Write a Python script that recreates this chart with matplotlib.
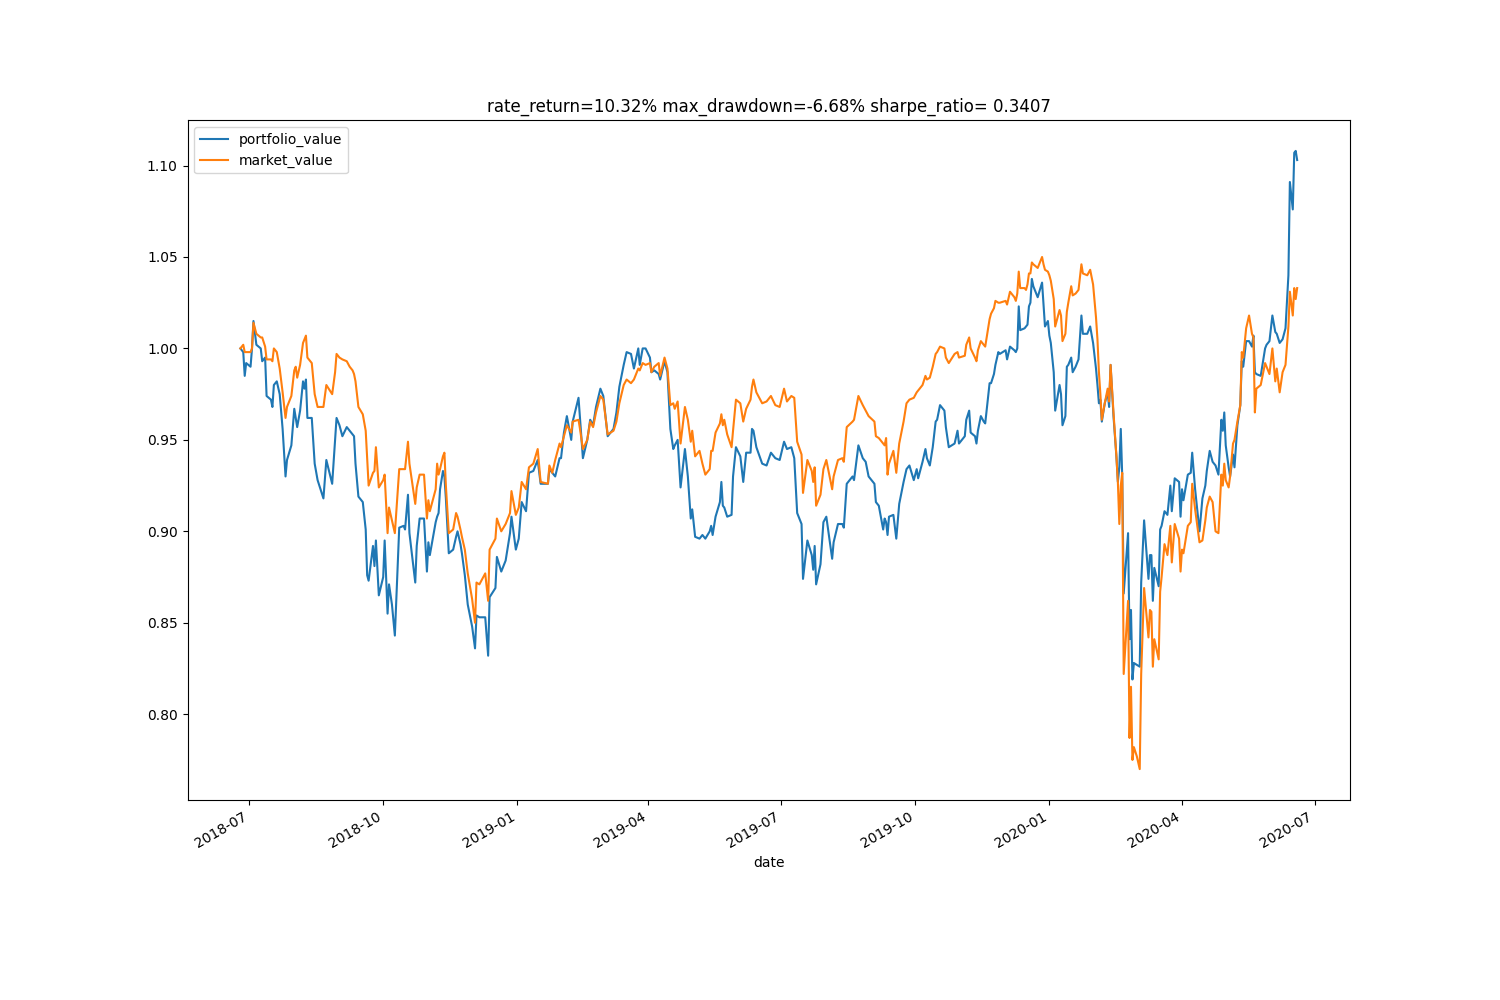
import matplotlib
matplotlib.use('Agg')
import matplotlib.pyplot as plt
import matplotlib.dates as mdates
import pandas as pd

start_date = '2018-06-25'
day_offsets = [
    0, 2, 3, 4, 7, 8, 9, 11, 14, 15, 17, 18, 21, 22, 23, 25, 27, 29, 31, 32,
    35, 37, 38, 39, 41, 43, 44, 45, 46, 49, 51, 53, 57, 59, 63, 65, 66, 68, 70, 73,
    75, 77, 78, 79, 81, 84, 86, 87, 88, 91, 92, 93, 95, 98, 99, 101, 102, 104, 106, 109,
    112, 113, 115, 116, 120, 121, 123,
    126, 128, 129, 130, 134, 135, 136, 137, 139, 140, 141, 143, 146, 148, 149, 151, 152, 154, 156, 159,
    161, 162, 164, 166, 168, 170, 171, 175, 176, 179, 182, 185, 186, 189, 191, 193, 196, 198, 201, 204,
    206, 211, 212, 214, 216, 219, 220, 222, 224, 227, 228, 232, 233, 235, 238, 240, 242, 244, 247,
    249, 252, 256, 258, 260, 263, 265, 268, 270, 273, 274, 276, 278, 281, 282, 284, 287, 288, 291, 293,
    295, 297, 298, 300, 302, 305, 307, 309, 310, 312, 315, 317, 319, 322, 323, 324, 326, 329, 330, 331,
    332, 334, 337, 338, 340, 343, 345, 347, 350, 351, 352, 354, 358, 361, 364, 367, 370,
    373, 375, 378, 380, 382, 385, 386, 389, 392, 393, 394, 395, 398, 400, 402, 406, 407, 410, 413, 414,
    416, 420, 421, 424, 427, 429, 431, 435, 436, 438, 441, 442, 443, 444, 445, 448, 450, 452, 455, 457,
    459, 462, 464, 465, 468, 470, 471, 473, 475, 477, 478, 480, 483, 484, 486, 490, 492, 493,
    497, 498, 500, 501, 504, 505, 506, 508, 510, 511, 514, 515, 517, 518, 520, 521, 525, 526, 528, 531,
    532, 533, 534, 535, 538, 539, 540, 541, 542, 543, 544, 547, 550, 551, 552, 554, 555, 556, 558, 559,
    562, 563, 564, 566, 567, 568, 570, 571, 573, 575, 577, 578, 581, 583,
    585, 587, 588, 589, 590, 591, 593, 595, 596, 597, 599, 601, 602, 603, 604, 605, 606, 609, 610, 611,
    612, 613, 615, 617, 618, 620, 623, 624, 625, 626, 627, 630, 631, 632, 634, 636, 638, 639, 641, 644,
    645, 646, 647, 650, 652, 653, 655, 658, 660, 662, 663, 665, 667, 669, 671, 673, 674, 675, 676, 678,
    679, 681, 682, 684, 686, 687, 688, 690, 692, 694, 695, 696, 697, 700, 703, 704, 706, 708, 710, 711,
    713, 715, 717, 719, 720, 722, 723, 724, 725,
]

portfolio_value = [
    1.000, 0.998, 0.985, 0.992, 0.990, 1.000, 1.015, 1.002, 1.000, 0.993, 0.995, 0.974, 0.972, 0.968, 0.980, 0.982, 0.975, 0.956, 0.930, 0.939,
    0.947, 0.967, 0.962, 0.957, 0.966, 0.982, 0.978, 0.983, 0.962, 0.962, 0.937, 0.928, 0.918, 0.939, 0.926, 0.950, 0.962, 0.958, 0.952, 0.957,
    0.955, 0.953, 0.952, 0.937, 0.919, 0.916, 0.901, 0.876, 0.873, 0.892, 0.881, 0.895, 0.865, 0.875, 0.895, 0.855, 0.871, 0.860, 0.843, 0.902,
    0.903, 0.901, 0.920, 0.899, 0.872, 0.892, 0.907,
    0.907, 0.878, 0.894, 0.887, 0.905, 0.908, 0.910, 0.923, 0.933, 0.930, 0.918, 0.888, 0.890, 0.897, 0.900, 0.893, 0.888, 0.876, 0.860, 0.848,
    0.836, 0.854, 0.853, 0.853, 0.853, 0.832, 0.864, 0.869, 0.886, 0.878, 0.884, 0.899, 0.908, 0.890, 0.896, 0.916, 0.911, 0.932, 0.933, 0.939,
    0.926, 0.926, 0.934, 0.932, 0.930, 0.940, 0.940, 0.954, 0.963, 0.950, 0.960, 0.973, 0.962, 0.940, 0.950, 0.961, 0.958, 0.968, 0.978,
    0.974, 0.952, 0.956, 0.965, 0.979, 0.991, 0.998, 0.997, 0.989, 1.000, 0.991, 1.000, 1.000, 0.995, 0.987, 0.988, 0.986, 0.983, 0.993, 0.987,
    0.956, 0.945, 0.947, 0.950, 0.924, 0.945, 0.930, 0.907, 0.912, 0.897, 0.896, 0.898, 0.896, 0.900, 0.903, 0.898, 0.908, 0.916, 0.927, 0.914,
    0.913, 0.908, 0.909, 0.930, 0.946, 0.941, 0.927, 0.943, 0.943, 0.956, 0.955, 0.946, 0.937, 0.936, 0.943, 0.940, 0.939,
    0.949, 0.945, 0.946, 0.940, 0.910, 0.904, 0.874, 0.895, 0.887, 0.879, 0.892, 0.871, 0.882, 0.905, 0.908, 0.885, 0.894, 0.904, 0.904, 0.902,
    0.926, 0.930, 0.928, 0.947, 0.940, 0.938, 0.930, 0.926, 0.916, 0.914, 0.901, 0.907, 0.905, 0.898, 0.908, 0.909, 0.896, 0.915, 0.927, 0.934,
    0.936, 0.928, 0.934, 0.929, 0.938, 0.945, 0.940, 0.936, 0.946, 0.960, 0.961, 0.969, 0.966, 0.957, 0.946, 0.948, 0.955, 0.948,
    0.952, 0.961, 0.966, 0.954, 0.952, 0.948, 0.955, 0.963, 0.960, 0.959, 0.981, 0.981, 0.986, 0.991, 0.998, 0.997, 0.999, 0.994, 1.001, 0.999,
    0.998, 1.000, 1.023, 1.010, 1.011, 1.012, 1.013, 1.023, 1.025, 1.038, 1.034, 1.028, 1.036, 1.024, 1.012, 1.015, 1.007, 1.003, 0.987, 0.966,
    0.980, 0.975, 0.958, 0.963, 0.990, 0.991, 0.995, 0.987, 0.990, 0.994, 1.018, 1.008, 1.008, 1.012,
    1.003, 0.989, 0.980, 0.970, 0.972, 0.960, 0.970, 0.976, 0.968, 0.991, 0.963, 0.941, 0.927, 0.935, 0.956, 0.930, 0.866, 0.899, 0.841, 0.857,
    0.819, 0.828, 0.827, 0.826, 0.872, 0.906, 0.874, 0.887, 0.887, 0.862, 0.880, 0.870, 0.901, 0.903, 0.911, 0.909, 0.925, 0.911, 0.929, 0.927,
    0.908, 0.923, 0.917, 0.931, 0.932, 0.943, 0.923, 0.900, 0.918, 0.925, 0.933, 0.944, 0.938, 0.936, 0.931, 0.961, 0.955, 0.965, 0.947, 0.935,
    0.930, 0.942, 0.935, 0.958, 0.969, 0.993, 0.990, 1.004, 1.004, 1.001, 1.007, 0.987, 0.986, 0.985, 1.000, 1.002, 1.004, 1.018, 1.009, 1.008,
    1.003, 1.005, 1.011, 1.040, 1.091, 1.076, 1.107, 1.108, 1.103,
]

market_value = [
    1.000, 1.002, 0.998, 0.998, 0.998, 1.000, 1.014, 1.008, 1.006, 1.006, 1.001, 0.994, 0.994, 0.993, 1.000, 0.998, 0.989, 0.976, 0.962, 0.968,
    0.974, 0.988, 0.990, 0.984, 0.991, 1.003, 1.005, 1.007, 0.995, 0.992, 0.975, 0.968, 0.968, 0.980, 0.975, 0.987, 0.997, 0.995, 0.994, 0.993,
    0.990, 0.988, 0.986, 0.982, 0.968, 0.964, 0.955, 0.940, 0.925, 0.932, 0.933, 0.946, 0.924, 0.928, 0.931, 0.899, 0.913, 0.906, 0.899, 0.934,
    0.934, 0.934, 0.949, 0.937, 0.915, 0.924, 0.931,
    0.931, 0.907, 0.917, 0.911, 0.923, 0.937, 0.931, 0.934, 0.941, 0.943, 0.925, 0.899, 0.901, 0.910, 0.908, 0.901, 0.897, 0.890, 0.877, 0.863,
    0.850, 0.872, 0.871, 0.874, 0.877, 0.862, 0.890, 0.896, 0.907, 0.900, 0.904, 0.910, 0.922, 0.909, 0.913, 0.927, 0.923, 0.935, 0.937, 0.945,
    0.927, 0.926, 0.936, 0.932, 0.939, 0.948, 0.946, 0.952, 0.958, 0.954, 0.960, 0.961, 0.956, 0.945, 0.950, 0.960, 0.957, 0.965, 0.974,
    0.972, 0.953, 0.955, 0.960, 0.970, 0.980, 0.983, 0.981, 0.983, 0.989, 0.988, 0.992, 0.991, 0.992, 0.987, 0.990, 0.992, 0.985, 0.995, 0.989,
    0.969, 0.970, 0.967, 0.971, 0.948, 0.968, 0.961, 0.949, 0.955, 0.941, 0.944, 0.937, 0.931, 0.934, 0.944, 0.944, 0.954, 0.959, 0.964, 0.958,
    0.961, 0.953, 0.946, 0.955, 0.972, 0.970, 0.960, 0.967, 0.972, 0.979, 0.983, 0.976, 0.970, 0.971, 0.974, 0.969, 0.968,
    0.978, 0.971, 0.974, 0.973, 0.949, 0.942, 0.921, 0.939, 0.933, 0.927, 0.935, 0.914, 0.920, 0.934, 0.939, 0.923, 0.930, 0.939, 0.940, 0.938,
    0.957, 0.960, 0.961, 0.974, 0.969, 0.966, 0.963, 0.960, 0.952, 0.951, 0.948, 0.947, 0.951, 0.931, 0.937, 0.944, 0.932, 0.948, 0.960, 0.970,
    0.972, 0.973, 0.976, 0.977, 0.980, 0.985, 0.983, 0.984, 0.990, 0.997, 0.998, 1.001, 1.000, 0.995, 0.992, 0.997, 0.998, 0.995,
    0.996, 1.002, 1.006, 1.000, 0.995, 0.993, 0.999, 1.004, 1.002, 1.001, 1.016, 1.019, 1.022, 1.026, 1.025, 1.025, 1.026, 1.024, 1.031, 1.028,
    1.026, 1.030, 1.042, 1.033, 1.033, 1.032, 1.035, 1.041, 1.041, 1.047, 1.046, 1.044, 1.050, 1.046, 1.043, 1.042, 1.040, 1.037, 1.027, 1.012,
    1.021, 1.018, 1.004, 1.008, 1.020, 1.025, 1.034, 1.029, 1.030, 1.032, 1.046, 1.041, 1.040, 1.043,
    1.035, 1.017, 1.005, 0.987, 0.975, 0.961, 0.970, 0.978, 0.971, 0.991, 0.965, 0.941, 0.927, 0.904, 0.925, 0.932, 0.822, 0.862, 0.787, 0.815,
    0.775, 0.782, 0.777, 0.770, 0.822, 0.869, 0.842, 0.857, 0.856, 0.826, 0.841, 0.830, 0.867, 0.875, 0.893, 0.887, 0.903, 0.883, 0.904, 0.896,
    0.878, 0.890, 0.888, 0.903, 0.905, 0.926, 0.912, 0.894, 0.895, 0.906, 0.913, 0.919, 0.916, 0.900, 0.899, 0.931, 0.925, 0.937, 0.928, 0.924,
    0.930, 0.948, 0.950, 0.960, 0.969, 0.998, 0.995, 1.011, 1.018, 1.008, 1.006, 0.965, 0.978, 0.980, 0.992, 0.990, 0.986, 1.000, 0.982, 0.989,
    0.976, 0.987, 0.991, 1.012, 1.031, 1.018, 1.033, 1.027, 1.033,
]

dates = pd.Timestamp(start_date) + pd.to_timedelta(day_offsets, unit='D')

fig, ax = plt.subplots(figsize=(15, 10), dpi=100)
ax.plot(dates, portfolio_value, label='portfolio_value')
ax.plot(dates, market_value, label='market_value')

ax.set_title('rate_return=10.32% max_drawdown=-6.68% sharpe_ratio= 0.3407')
ax.set_xlabel('date')
ax.legend(loc='upper left')

ax.xaxis.set_major_locator(mdates.MonthLocator(bymonth=(1, 4, 7, 10)))
ax.xaxis.set_major_formatter(mdates.DateFormatter('%Y-%m'))
fig.autofmt_xdate()

fig.savefig('out.png')
